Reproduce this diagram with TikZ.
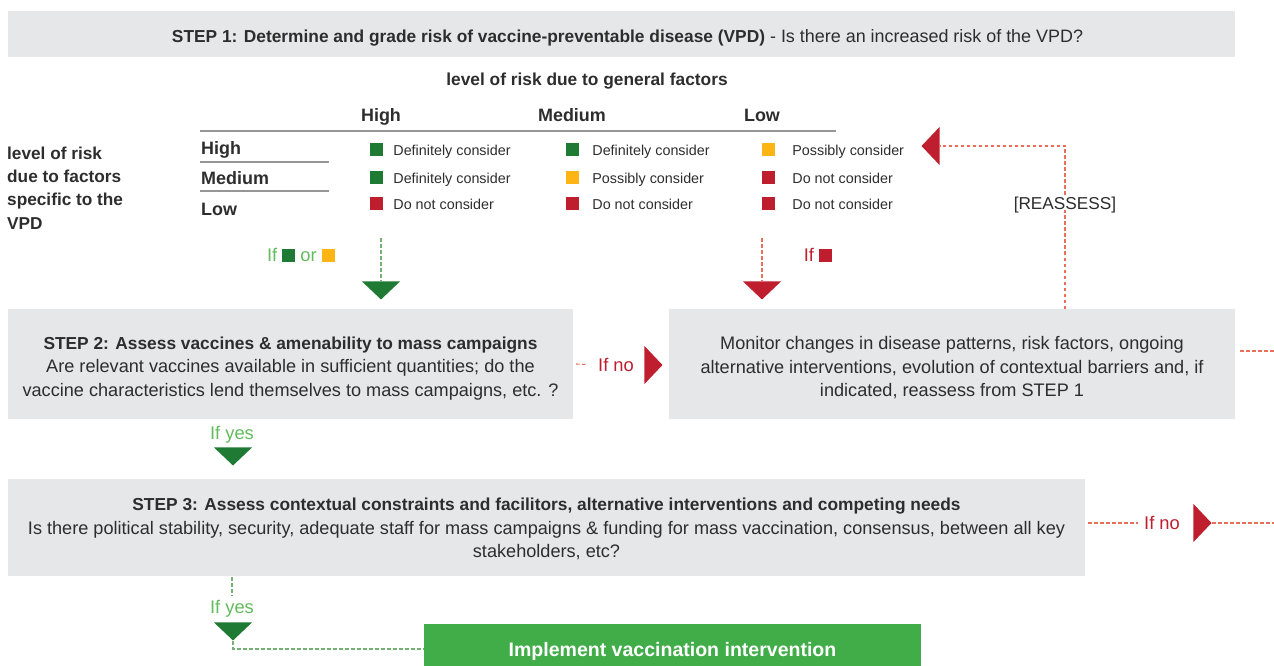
\documentclass[tikz,border=0pt]{standalone}
\usepackage{fontspec}
\setmainfont{Liberation Sans}
\usepackage{tikz}
\usetikzlibrary{positioning, shapes.geometric}
\definecolor{boxgray}{RGB}{230, 231, 232}
\definecolor{ink}{RGB}{45, 45, 45}
\definecolor{dgreen}{RGB}{31, 122, 52}
\definecolor{lgreen}{RGB}{98, 187, 92}
\definecolor{gline}{RGB}{115, 178, 115}
\definecolor{implgreen}{RGB}{64, 173, 73}
\definecolor{dred}{RGB}{190, 30, 45}
\definecolor{salmon}{RGB}{232, 112, 88}
\definecolor{amber}{RGB}{253, 181, 21}
\definecolor{rule}{RGB}{150, 150, 150}

\newcommand{\steptitle}[1]{{\fontsize{17.4}{23.5}\selectfont\bfseries #1}}
\newcommand{\toppad}[1]{\rule{0pt}{#1}}

\tikzset{
  stepbox/.style={fill=boxgray, inner sep=0pt, align=center, text=ink,
    font=\fontsize{18.2}{23.5}\selectfont},
  tri/.style={isosceles triangle, isosceles triangle stretches, inner sep=0pt,
    minimum width=38bp, minimum height=18bp},
  gdash/.style={draw=gline, dashed, dash pattern=on 3.5bp off 2.5bp, line width=1.1bp},
  rdash/.style={draw=salmon, dashed, dash pattern=on 3.5bp off 2.5bp, line width=1.1bp},
  cellmark/.style={minimum size=13bp, inner sep=0pt},
  celltext/.style={inner sep=0pt, text=ink, font=\fontsize{14.4}{18}\selectfont,
    text height=10.3bp, text depth=0pt},
  head/.style={inner sep=0pt, text=ink, font=\fontsize{18}{23.5}\selectfont\bfseries},
  headline/.style={head, text height=13bp, text depth=0pt},
  iflabel/.style={inner sep=1bp, font=\fontsize{18.4}{20}\selectfont,
    text height=13.2bp, text depth=0pt}
}

\begin{document}
\begin{tikzpicture}[x=1bp, y=-1bp]

\useasboundingbox (0, 0) rectangle (1274, 666);

\node[stepbox, minimum width=1227bp, minimum height=46bp, font=\fontsize{18}{20}\selectfont] (step1) at (621.5, 34)
{\toppad{21.5bp}\hspace*{12bp}\steptitle{STEP 1: Determine and grade risk of vaccine-preventable disease (VPD)} - Is there an increased risk of the VPD?};

\node[headline, font=\fontsize{17.4}{20}\selectfont\bfseries] (general) at (587, 79) {level of risk due to general factors};

\node[headline] (colhigh) at (381, 115) {High};
\node[headline] (colmed) at (572, 115) {Medium};
\node[headline] (collow) at (762, 115) {Low};

\draw[rule, line width=1.2bp] (200, 131) -- (836, 131);
\draw[rule, line width=1.2bp] (200, 162) -- (329, 162);
\draw[rule, line width=1.2bp] (200, 191) -- (329, 191);

\node[headline, anchor=west] (rowhigh) at (201, 148) {High};
\node[headline, anchor=west] (rowmed) at (201, 178) {Medium};
\node[headline, anchor=west] (rowlow) at (201, 209) {Low};

\node[head, anchor=west, align=left, font=\fontsize{17.3}{23.5}\selectfont\bfseries] (specific) at (7, 188)
{level of risk\\due to factors\\specific to the\\VPD};

\foreach \mx/\my/\gap/\mc/\mt [count=\i] in {
  376/150/10.5/dgreen/Definitely consider, 572/150/13.5/dgreen/Definitely consider, 768/150/17.5/amber/Possibly consider,
  376/178/10.5/dgreen/Definitely consider, 572/178/13.5/amber/Possibly consider, 768/178/17.5/dred/Do not consider,
  376/204/10.5/dred/Do not consider, 572/204/13.5/dred/Do not consider, 768/204/17.5/dred/Do not consider}
{
  \node[cellmark, fill=\mc] (mark\i) at (\mx, \my) {};
  \node[celltext, right=\gap bp of mark\i] (cell\i) {\mt};
}

\node[iflabel, text=lgreen] (ifgo) at (301, 255)
{If \textcolor{dgreen}{\rule{13bp}{13bp}} or \textcolor{amber}{\rule{13bp}{13bp}}};
\node[iflabel, text=dred] (ifstop) at (818, 255)
{If \textcolor{dred}{\rule{13bp}{13bp}}};

\coordinate (gostart) at (381, 238);
\coordinate (stopstart) at (762, 238);
\node[tri, shape border rotate=270, fill=dgreen, anchor=apex] (trigo) at (381, 300) {};
\node[tri, shape border rotate=270, fill=dred, anchor=apex] (tristop) at (762, 300) {};
\draw[gdash] (gostart) -- (trigo.lower side);
\draw[rdash] (stopstart) -- (tristop.lower side);

\node[stepbox, minimum width=565bp, minimum height=110bp] (step2) at (290.5, 364)
{\toppad{21bp}\steptitle{STEP 2: Assess vaccines \& amenability to mass campaigns}\\
Are relevant vaccines available in sufficient quantities; do the\\
vaccine characteristics lend themselves to mass campaigns, etc. ?};

\node[stepbox, minimum width=566bp, minimum height=110bp] (monitor) at (952, 364)
{\toppad{21bp}Monitor changes in disease patterns, risk factors, ongoing\\
alternative interventions, evolution of contextual barriers and, if\\
indicated, reassess from STEP 1};

\node[iflabel, text=dred] (ifno1) at (616, 365) {If no};
\node[tri, fill=dred, anchor=apex] (trino1) at (663, 365) {};
\draw[rdash, shorten >=9bp] ([xshift=3bp]step2.east) -- (ifno1.west);

\coordinate (reup) at (1065, 309);
\node[tri, shape border rotate=180, fill=dred, anchor=apex] (trire) at (921, 146) {};
\draw[rdash] (reup) |- (trire.lower side);
\node[fill=white, inner sep=1bp, text=ink, font=\fontsize{17.3}{20}\selectfont,
  text height=12.4bp, text depth=0pt] (reassess) at (1065, 203) {[REASSESS]};

\coordinate (monout) at (1274, 351);
\draw[rdash] (1240, 351) -- (monout);

\node[iflabel, text=lgreen] (ifyes1) at (232, 433) {If yes};
\node[tri, shape border rotate=270, fill=dgreen, anchor=apex] (triyes1) at (233, 466) {};

\node[stepbox, minimum width=1077bp, minimum height=97bp] (step3) at (546.5, 527)
{\toppad{17bp}\steptitle{STEP 3: Assess contextual constraints and facilitors, alternative interventions and competing needs}\\
Is there political stability, security, adequate staff for mass campaigns \& funding for mass vaccination, consensus, between all key\\
stakeholders, etc?};

\node[iflabel, text=dred] (ifno2) at (1162, 523) {If no};
\node[tri, fill=dred, anchor=apex] (trino2) at (1212, 523) {};
\coordinate (step3out) at (1274, 523);
\draw[rdash, shorten >=5bp] ([xshift=3bp]step3.east |- ifno2) -- (ifno2.west);
\draw[rdash] (trino2.apex) -- (step3out);

\node[iflabel, text=lgreen] (ifyes2) at (232, 607) {If yes};
\node[tri, shape border rotate=270, fill=dgreen, anchor=apex] (triyes2) at (233, 641) {};
\draw[gdash] (232, 577) -- ([yshift=3bp]ifyes2.north);

\node[fill=implgreen, text=white, inner sep=0pt, minimum width=497bp, minimum height=50bp,
  font=\fontsize{19.6}{20}\selectfont\bfseries, text height=14bp, text depth=0pt] (implement) at (672.5, 649)
{Implement vaccination intervention};
\draw[gdash] (triyes2.apex) |- (implement.west);

\end{tikzpicture}
\end{document}
